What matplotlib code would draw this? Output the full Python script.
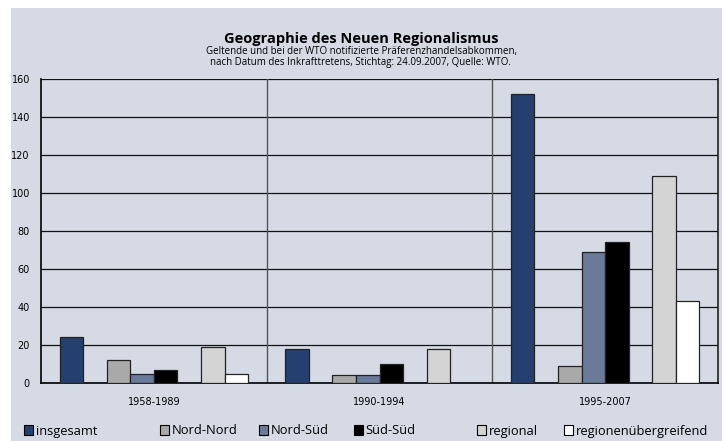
import matplotlib
matplotlib.use("Agg")
import matplotlib.pyplot as plt
from matplotlib.patches import Rectangle
import numpy as np

# data
periods = ['1958-1989', '1990-1994', '1995-2007']
series = ['insgesamt', 'Nord-Nord', 'Nord-Süd', 'Süd-Süd', 'regional', 'regionenübergreifend']
insgesamt = [24, 18, 152]
nord_nord = [12, 4, 9]
nord_sued = [5, 4, 69]
sued_sued = [7, 10, 74]
regional = [19, 18, 109]
regionenuebergreifend = [5, 0, 43]
values = [insgesamt, nord_nord, nord_sued, sued_sued, regional, regionenuebergreifend]

colors = ['#253f6e', '#a9a9a9', '#6a7a99', '#000000', '#d4d4d4', '#ffffff']
# slot in group (Excel-style, two empty spacer series)
slots = [0, 2, 3, 4, 6, 7]

bg = '#d5dae5'

fig = plt.figure(figsize=(7.22, 4.41), dpi=100)
fig.patch.set_facecolor('white')
fig.patches.append(Rectangle((11 / 722, 0), 1, 1 - 8 / 441, transform=fig.transFigure,
                             facecolor=bg, edgecolor='none', zorder=-10))

ax = fig.add_axes([41 / 722, 1 - 383 / 441, 677 / 722, 304 / 441])
ax.set_facecolor(bg)

w = 1 / 9.58
gap = 0.79 * w
for vals, c, s in zip(values, colors, slots):
    x = np.arange(len(periods)) + gap + s * w
    ax.bar(x, vals, width=w, align='edge', color=c, edgecolor='#222222',
           linewidth=0.9, zorder=3)

ax.set_xlim(0, 3)
ax.set_ylim(0, 160)
ax.set_yticks(range(0, 161, 20))
ax.yaxis.grid(True, color='#111111', linewidth=0.9, zorder=1)
ax.set_axisbelow(True)
for xv in [1, 2]:
    ax.axvline(xv, color='#555555', linewidth=1.0, zorder=2)

ax.set_xticks([0.5, 1.5, 2.5])
ax.set_xticklabels(periods, fontsize=7)
ax.tick_params(axis='x', length=0, pad=10)
ax.tick_params(axis='y', length=0, pad=8, labelsize=7)

ax.spines['top'].set_visible(False)
ax.spines['left'].set_linewidth(1.2)
ax.spines['bottom'].set_linewidth(1.2)
ax.spines['right'].set_linewidth(1.2)
ax.spines['right'].set_color('#222222')

fig.text(0.5, 1 - 43 / 441, 'Geographie des Neuen Regionalismus', ha='center', va='baseline',
         fontsize=10.5, fontweight='bold', family='Open Sans')
fig.text(0.5, 1 - 54 / 441, 'Geltende und bei der WTO notifizierte Präferenzhandelsabkommen,',
         ha='center', va='baseline', fontsize=7, family='Open Sans')
fig.text(0.5, 1 - 65 / 441, 'nach Datum des Inkrafttretens, Stichtag: 24.09.2007, Quelle: WTO.',
         ha='center', va='baseline', fontsize=7, family='Open Sans')

# legend entries, placed one by one like the original
leg_x = [24, 160, 259, 354, 477, 564]
for lx, lab, c in zip(leg_x, series, colors):
    h = Rectangle((0, 0), 1, 1, facecolor=c, edgecolor='black', linewidth=0.8)
    fig.legend([h], [lab], loc='center left', bbox_to_anchor=(lx / 722, 1 - 431 / 441),
               frameon=False, handlelength=0.7, handleheight=0.7, handletextpad=0.2,
               borderpad=0, borderaxespad=0, prop={'family': 'Open Sans', 'size': 9.3})

fig.savefig('out.png', dpi=100, facecolor=fig.get_facecolor())
